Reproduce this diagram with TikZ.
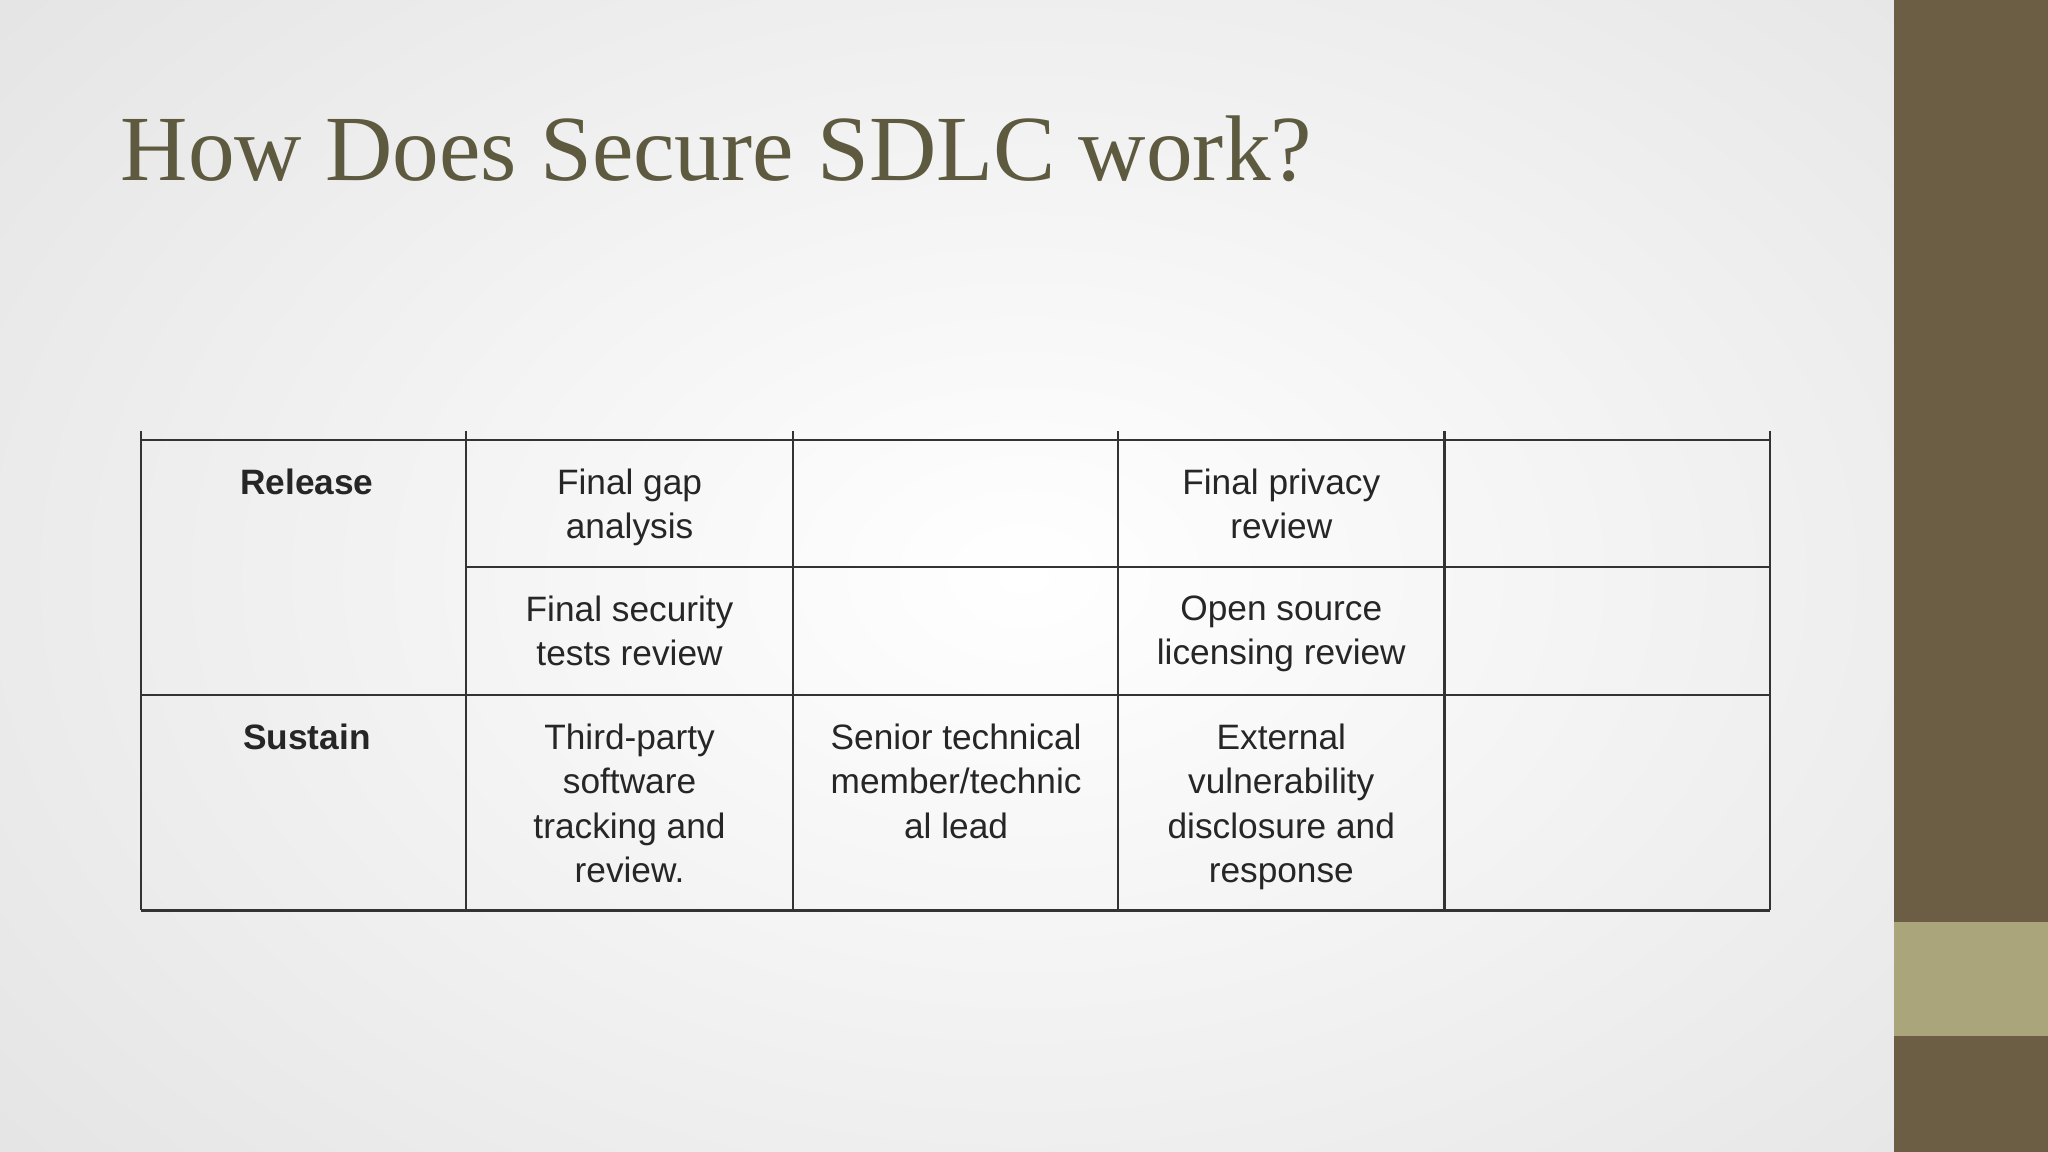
\documentclass[tikz,border=0pt]{standalone}
\usepackage{fontspec}
\setmainfont{Liberation Sans}
\newfontfamily\titlefont{Liberation Serif}
\definecolor{barbrown}{HTML}{6B5E45}
\definecolor{barlight}{HTML}{ABA57B}
\definecolor{titlecol}{HTML}{5E5A40}
\begin{document}
\begin{tikzpicture}[x=0.5pt,y=-0.5pt,
  cell/.style={align=center,anchor=north,font=\fontsize{13.5}{17}\selectfont,text=black!85},
  head/.style={cell,font=\fontsize{13.5}{17}\selectfont\bfseries},
  grid/.style={line width=0.9pt,draw=black!80}]
\useasboundingbox (0,0) rectangle (1568,882);
\shade[inner color=white,outer color=gray!22] (-300,-300) rectangle (1868,1182);
\fill[barbrown] (1450,0) rectangle (1568,882);
\fill[barlight] (1450,706) rectangle (1568,793);
\node[anchor=base west,inner sep=0,text=titlecol,font=\titlefont\fontsize{35.7}{42}\selectfont] (title) at (92,138) {How Does Secure SDLC work?};
% grid
\draw[grid] (108,337) -- (1355,337);
\draw[grid] (357,434) -- (1355,434);
\draw[grid] (108,532) -- (1355,532);
\draw[grid] (108,697) -- (1355,697);
\foreach \x in {108,357,607,856,1106,1355} \draw[grid] (\x,330) -- (\x,697);
% texts
\node[head] (r1) at (235,352) {Release};
\node[head] (r2) at (235,547) {Sustain};
\node[cell] (a1) at (482,352) {Final gap\\analysis};
\node[cell] (a2) at (981,352) {Final privacy\\review};
\node[cell] (b1) at (482,449) {Final security\\tests review};
\node[cell] (b2) at (981,449) {Open source\\licensing review};
\node[cell] (c1) at (482,547) {Third-party\\software\\tracking and\\review.};
\node[cell] (c2) at (732,547) {Senior technical\\member/technic\\al lead};
\node[cell] (c3) at (981,547) {External\\vulnerability\\disclosure and\\response};
\end{tikzpicture}
\end{document}
